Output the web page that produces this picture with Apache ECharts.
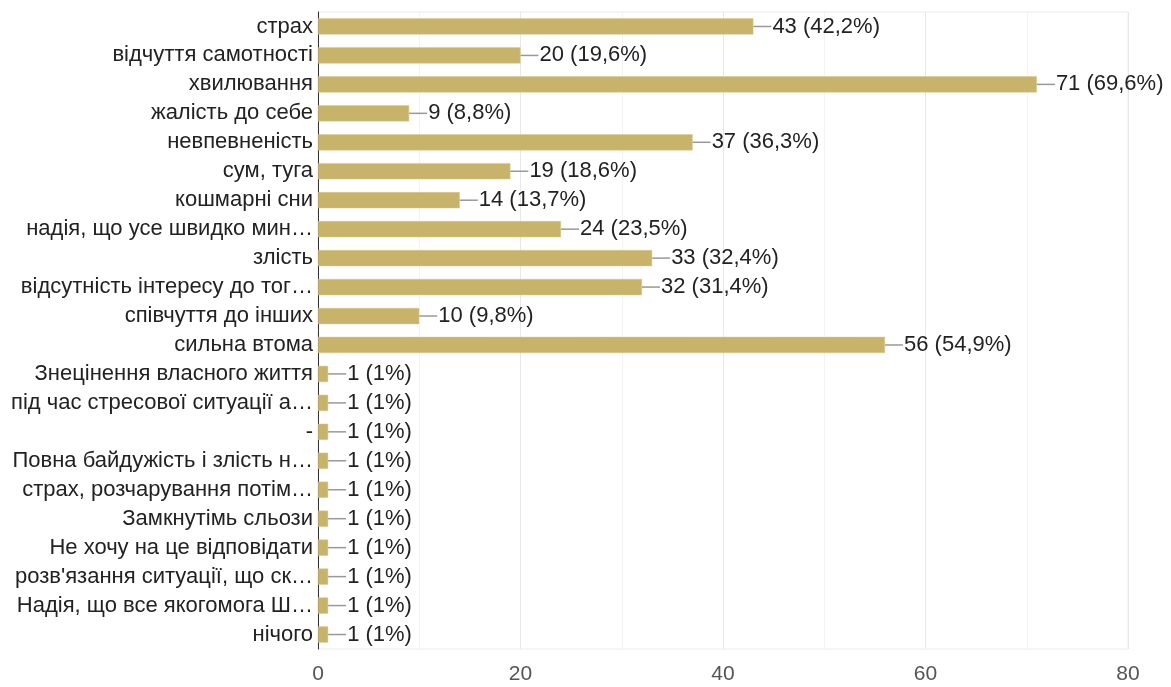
<!DOCTYPE html>
<html>
<head>
<meta charset="utf-8">
<script src="https://cdn.jsdelivr.net/npm/echarts@6/dist/echarts.min.js"></script>
<style>
  html, body { margin: 0; padding: 0; background: #ffffff; }
  #chart { width: 1171px; height: 687px; }
</style>
</head>
<body>
<div id="chart"></div>
<script>
// Answer options (as shown, truncated ones end with an ellipsis)
const categories = [
  'страх',
  'відчуття самотності',
  'хвилювання',
  'жалість до себе',
  'невпевненість',
  'сум, туга',
  'кошмарні сни',
  'надія, що усе швидко мин…',
  'злість',
  'відсутність інтересу до тог…',
  'співчуття до інших',
  'сильна втома',
  'Знецінення власного життя',
  'під час стресової ситуації а…',
  '-',
  'Повна байдужість і злість н…',
  'страх, розчарування потім…',
  'Замкнутімь сльози',
  'Не хочу на це відповідати',
  "розв'язання ситуації, що ск…",
  'Надія, що все якогомога Ш…',
  'нічого'
];

// Number of responses per option
const counts = [43, 20, 71, 9, 37, 19, 14, 24, 33, 32, 10, 56, 1, 1, 1, 1, 1, 1, 1, 1, 1, 1];

// Share of respondents, as printed next to each bar
const shares = ['42,2%', '19,6%', '69,6%', '8,8%', '36,3%', '18,6%', '13,7%', '23,5%', '32,4%', '31,4%', '9,8%', '54,9%',
  '1%', '1%', '1%', '1%', '1%', '1%', '1%', '1%', '1%', '1%'];

// Value axis range
const xMin = 0, xMax = 80, xStep = 20;

const FONT = '"Liberation Sans", Arial, Helvetica, sans-serif';

const chart = echarts.init(document.getElementById('chart'), null, { renderer: 'canvas' });

chart.setOption({
  animation: false,
  backgroundColor: '#ffffff',
  textStyle: { fontFamily: FONT },
  grid: {
    left: 318, right: 43, top: 12, bottom: 38,
    show: true, borderColor: '#ececec', borderWidth: 1, backgroundColor: 'transparent'
  },
  xAxis: {
    type: 'value',
    min: xMin, max: xMax, interval: xStep,
    axisLine: { show: false },
    axisTick: { show: false },
    axisLabel: { color: '#555555', fontSize: 21, margin: 15, fontFamily: FONT },
    splitLine: { show: true, lineStyle: { color: '#e8e8e8', width: 1 } },
    minorTick: { show: false, splitNumber: 2 },
    minorSplitLine: { show: true, lineStyle: { color: '#f3f3f3', width: 1 } }
  },
  yAxis: {
    type: 'category',
    data: categories,
    inverse: true,
    axisLine: { show: true, lineStyle: { color: '#333333', width: 1 } },
    axisTick: { show: false },
    axisLabel: { color: '#222222', fontSize: 22, margin: 5, fontFamily: FONT }
  },
  series: [{
    type: 'bar',
    data: counts,
    barCategoryGap: '44%',
    itemStyle: { color: '#c8b36a', borderColor: '#d9c98c', borderWidth: 0.5 },
    label: {
      show: true,
      position: 'right',
      distance: 0,
      formatter: function (p) {
        return '{l|}{t|' + counts[p.dataIndex] + ' (' + shares[p.dataIndex] + ')}';
      },
      rich: {
        l: { width: 18, height: 1.5, backgroundColor: '#999999', verticalAlign: 'middle' },
        t: { color: '#222222', fontSize: 22, padding: [0, 0, 0, 1], verticalAlign: 'middle',
             fontFamily: FONT }
      }
    }
  }]
});
</script>
</body>
</html>
